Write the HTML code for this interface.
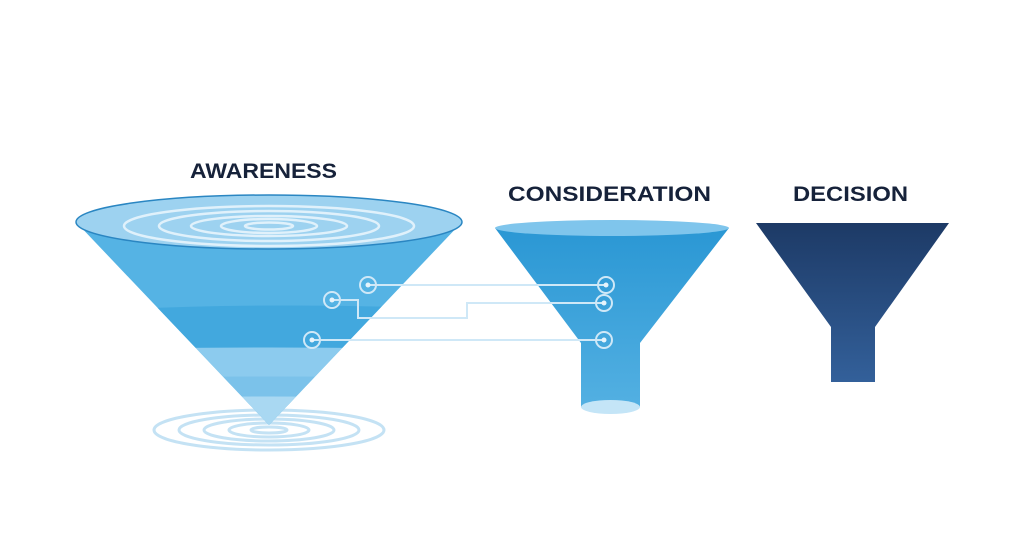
<!DOCTYPE html>
<html><head><meta charset="utf-8"><style>
html,body{margin:0;padding:0;background:#fff;width:1024px;height:559px;overflow:hidden}
</style></head><body>
<svg width="1024" height="559" viewBox="0 0 1024 559" xmlns="http://www.w3.org/2000/svg">
<defs>
<linearGradient id="dec" x1="0" y1="0" x2="0" y2="1">
<stop offset="0" stop-color="#1d3a66"/><stop offset="1" stop-color="#33609a"/></linearGradient>
<linearGradient id="con" x1="0" y1="0" x2="0" y2="1">
<stop offset="0" stop-color="#2a97d4"/><stop offset="1" stop-color="#53b0e2"/></linearGradient>
<clipPath id="cone"><path d="M76,222 L462,222 L269,425 Z"/></clipPath>
</defs>
<g font-family="Liberation Sans, sans-serif" font-weight="bold" font-size="21" fill="#16223a">
<text x="190" y="178" textLength="147" lengthAdjust="spacingAndGlyphs">AWARENESS</text>
<text x="508" y="201" textLength="203" lengthAdjust="spacingAndGlyphs">CONSIDERATION</text>
<text x="793" y="201" textLength="115" lengthAdjust="spacingAndGlyphs">DECISION</text>
</g>
<g fill="none" stroke="#c4e2f4" stroke-width="3">
<ellipse cx="269" cy="430" rx="115" ry="20"/>
<ellipse cx="269" cy="430" rx="90" ry="15"/>
<ellipse cx="269" cy="430" rx="65" ry="11"/>
<ellipse cx="269" cy="430" rx="40" ry="7"/>
<ellipse cx="269" cy="430" rx="18" ry="3"/>
</g>
<g clip-path="url(#cone)">
<rect x="70" y="215" width="400" height="215" fill="#55b3e4"/>
<path d="M70,312 Q269,300 470,310 L470,350 Q269,345 70,350 Z" fill="#42a8de"/>
<path d="M70,350 Q269,345 470,350 L470,430 L70,430 Z" fill="#8ccbee"/>
<path d="M70,378 Q269,375 470,378 L470,430 L70,430 Z" fill="#7bc2ea"/>
<path d="M70,398 Q269,395 470,398 L470,430 L70,430 Z" fill="#a9d8f2"/>
</g>
<ellipse cx="269" cy="222" rx="193" ry="27" fill="#9dd2f0" stroke="#2a86c2" stroke-width="1.5"/>
<g fill="none" stroke="#e0f1fb" stroke-width="2.5">
<ellipse cx="269" cy="226" rx="145" ry="20"/>
<ellipse cx="269" cy="226" rx="110" ry="15"/>
<ellipse cx="269" cy="226" rx="78" ry="10"/>
<ellipse cx="269" cy="226" rx="48" ry="7"/>
<ellipse cx="269" cy="226" rx="24" ry="3.5"/>
</g>
<path d="M495,228 L729,228 L640,343 L640,407 L581,407 L581,343 Z" fill="url(#con)"/>
<ellipse cx="612" cy="228" rx="117" ry="8" fill="#7fc5ec"/>
<ellipse cx="610.5" cy="407" rx="29.5" ry="7" fill="#c4e5f7"/>
<path d="M756,223 L949,223 L875,327 L875,382 L831,382 L831,327 Z" fill="url(#dec)"/>
<g fill="none" stroke="#cfe8f7" stroke-width="2">
<path d="M368,285 L606,285"/>
<path d="M332,300 L358,300 L358,318 L467,318 L467,303 L604,303"/>
<path d="M312,340 L604,340"/>
<circle cx="368" cy="285" r="8"/>
<circle cx="332" cy="300" r="8"/>
<circle cx="312" cy="340" r="8"/>
<circle cx="606" cy="285" r="8"/>
<circle cx="604" cy="303" r="8"/>
<circle cx="604" cy="340" r="8"/>
</g>
<g fill="#e6f4fc">
<circle cx="368" cy="285" r="2.5"/><circle cx="332" cy="300" r="2.5"/><circle cx="312" cy="340" r="2.5"/>
<circle cx="606" cy="285" r="2.5"/><circle cx="604" cy="303" r="2.5"/><circle cx="604" cy="340" r="2.5"/>
</g>
</svg>
</body></html>
